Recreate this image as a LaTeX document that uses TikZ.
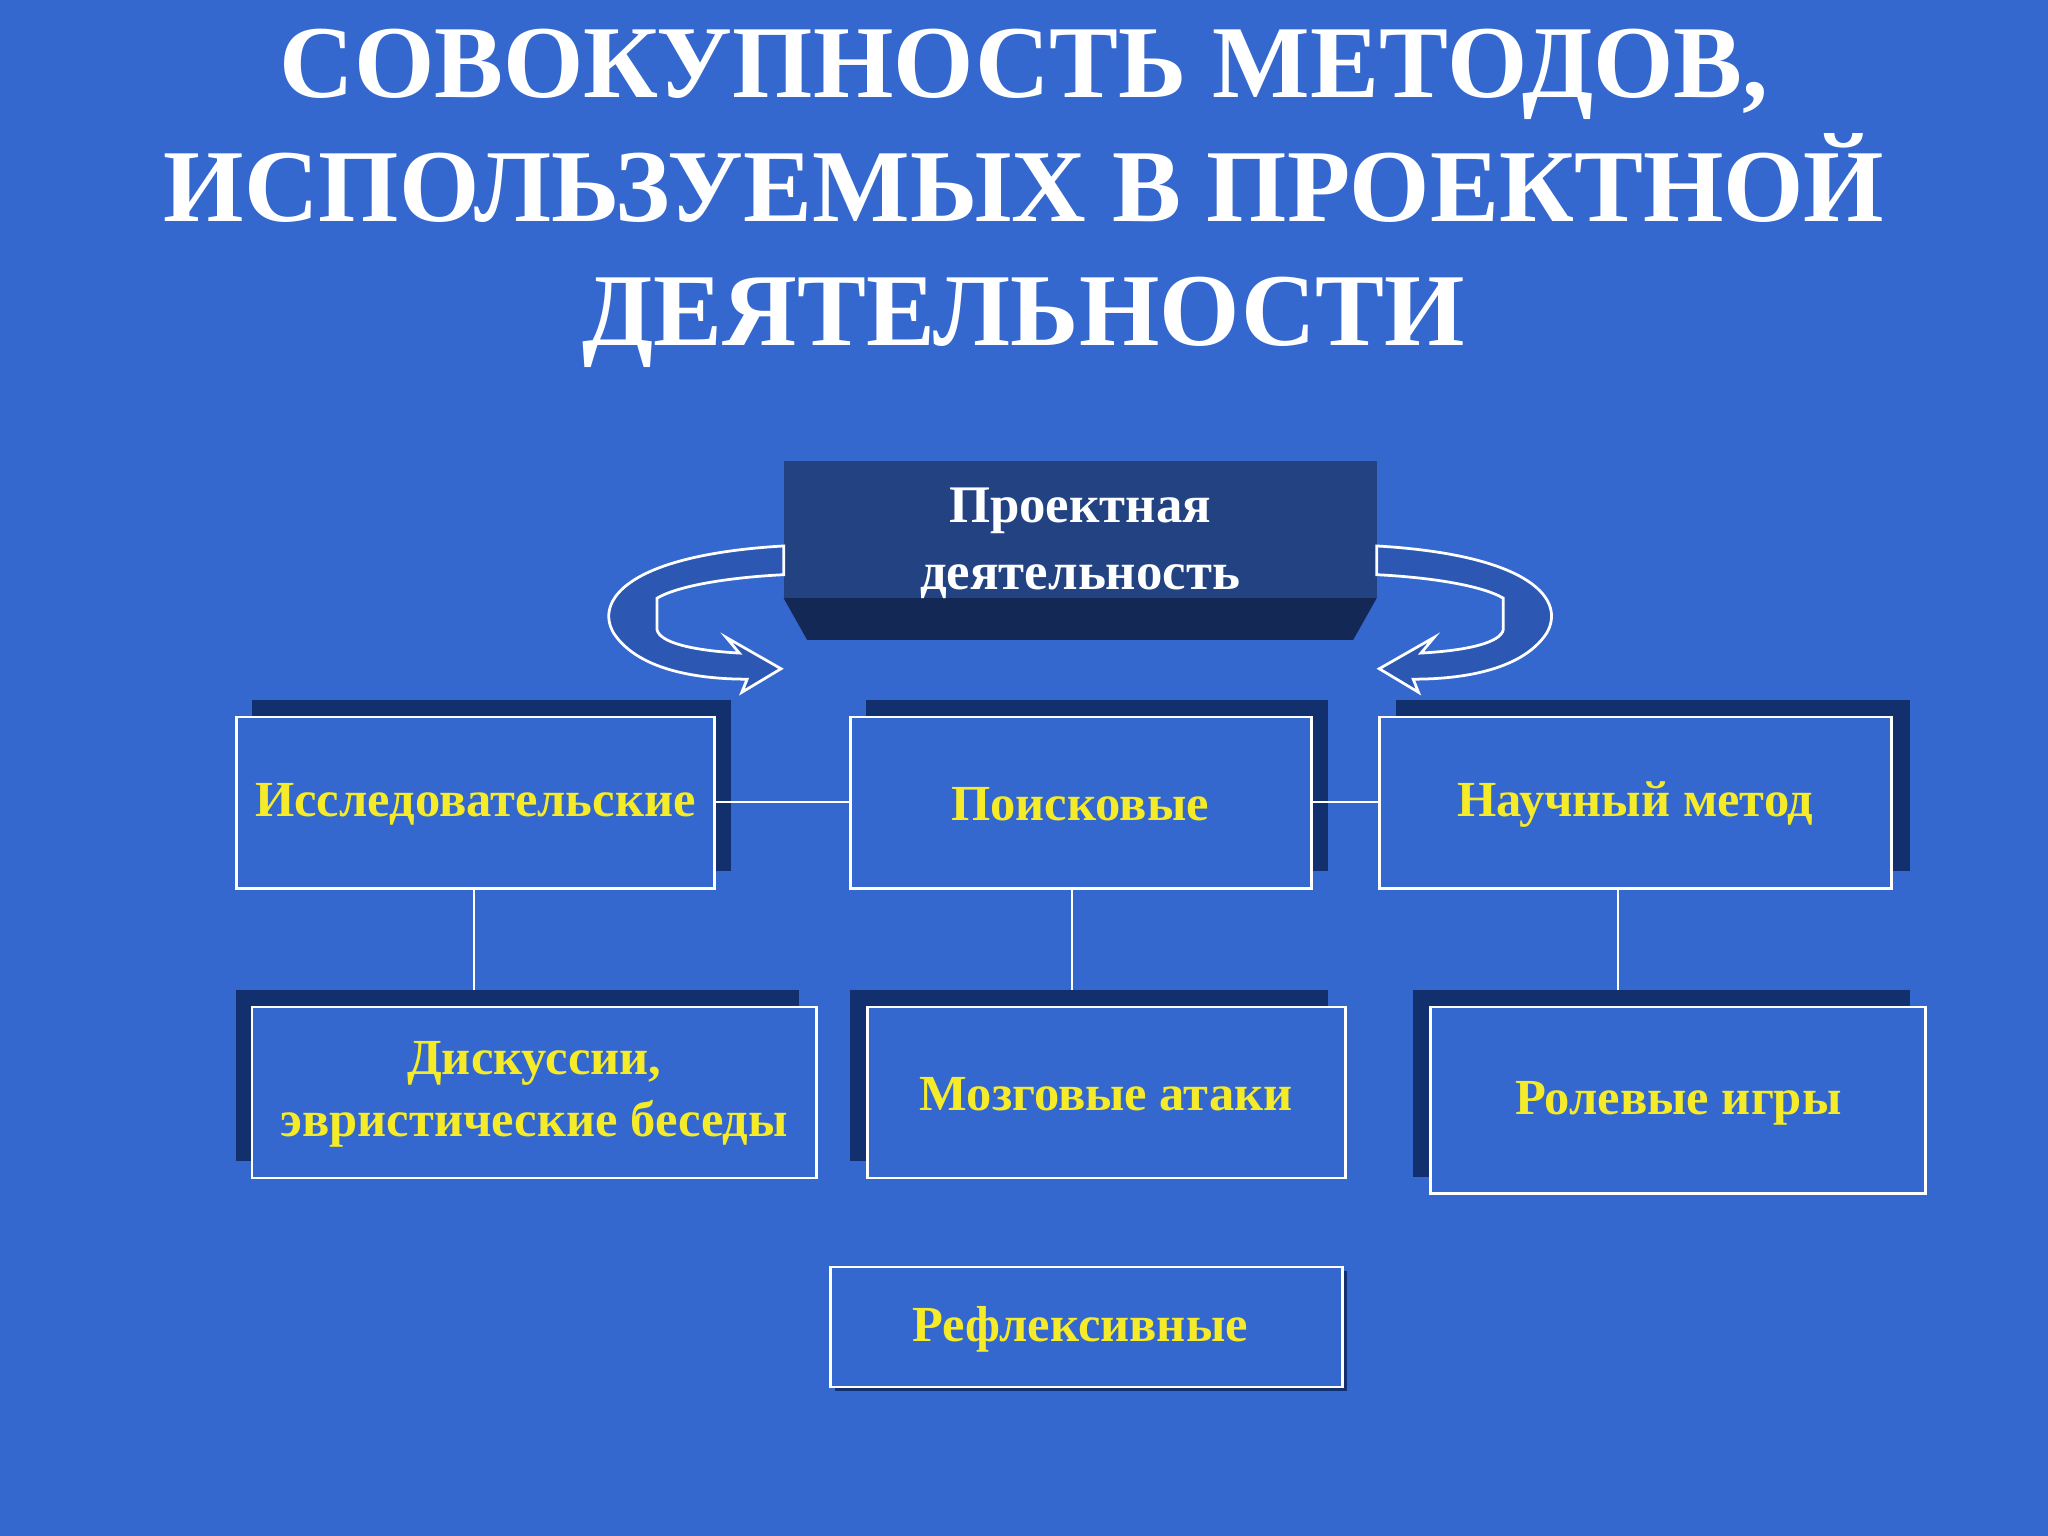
\documentclass[tikz,border=0pt]{standalone}
\usepackage{fontspec}
\setmainfont{Liberation Serif}
\definecolor{bg}{RGB}{52,104,206}
\definecolor{shad}{RGB}{18,48,110}
\definecolor{ytxt}{RGB}{245,235,40}
\definecolor{topf}{RGB}{34,66,130}
\definecolor{topb}{RGB}{20,40,85}
\definecolor{rib}{RGB}{44,88,180}
\tikzset{
 box/.style={draw=white,line width=0.6pt,fill=bg},
 lbl/.style={text=ytxt,font=\bfseries\fontsize{11}{13.5}\selectfont,align=center},
 conn/.style={draw=white,line width=0.5pt},
 ribbon/.style={draw=white,line width=0.6pt,fill=rib}
}
\begin{document}
\begin{tikzpicture}[x=0.01cm,y=-0.01cm]
\fill[bg] (0,0) rectangle (1568,1176);
\useasboundingbox (0,0) rectangle (1568,1176);
\node[text=white,font=\bfseries\fontsize{22.5}{27}\selectfont,align=center] (title) at (784,152)
 {СОВОКУПНОСТЬ МЕТОДОВ,\\ИСПОЛЬЗУЕМЫХ В ПРОЕКТНОЙ\\ДЕЯТЕЛЬНОСТИ};
% top box
\fill[topb] (600,458) -- (1054,458) -- (1036,490) -- (618,490) -- cycle;
\fill[topf] (600,353) rectangle (1054,458);
\node[text=white,font=\bfseries\fontsize{11.5}{14.5}\selectfont,align=center] (top) at (827,416) {Проектная\\деятельность};
% ribbons
\draw[ribbon] (600,418) .. controls (480,425) and (455,460) .. (470,485) .. controls (490,515) and (540,520) .. (572,520) -- (568,530) -- (598,512) -- (556,488) -- (566,500) .. controls (530,498) and (505,492) .. (503,482) -- (503,458) .. controls (520,448) and (560,442) .. (600,440) -- cycle;
\begin{scope}[shift={(1654,0)},xscale=-1]
\draw[ribbon] (600,418) .. controls (480,425) and (455,460) .. (470,485) .. controls (490,515) and (540,520) .. (572,520) -- (568,530) -- (598,512) -- (556,488) -- (566,500) .. controls (530,498) and (505,492) .. (503,482) -- (503,458) .. controls (520,448) and (560,442) .. (600,440) -- cycle;
\end{scope}
% shadows
\fill[shad] (193,536) rectangle (560,667);
\fill[shad] (663,536) rectangle (1017,667);
\fill[shad] (1069,536) rectangle (1462,667);
\fill[shad] (181,758) rectangle (612,889);
\fill[shad] (651,758) rectangle (1017,889);
\fill[shad] (1082,758) rectangle (1462,901);
\fill[shad] (639,973) rectangle (1031,1065);
% boxes
\draw[box] (181,549) rectangle (547,680); \node[lbl] (a) at (364,616) {Исследовательские};
\draw[box] (651,549) rectangle (1004,680); \node[lbl] (b) at (827,616) {Поисковые};
\draw[box] (1056,549) rectangle (1448,680); \node[lbl] (c) at (1252,616) {Научный метод};
\draw[box] (193,771) rectangle (625,902); \node[lbl] (d) at (409,838) {Дискуссии,\\эвристические беседы};
\draw[box] (664,771) rectangle (1030,902); \node[lbl] (e) at (847,838) {Мозговые атаки};
\draw[box] (1095,771) rectangle (1474,914); \node[lbl] (f) at (1285,845) {Ролевые игры};
\draw[box] (636,970) rectangle (1028,1062); \node[lbl] (g) at (827,1018) {Рефлексивные};
% connectors
\coordinate (a1) at (547,614); \coordinate (b1) at (651,614);
\coordinate (b2) at (1004,614); \coordinate (c1) at (1056,614);
\draw[conn] (a1) -- (b1); \draw[conn] (b2) -- (c1);
\coordinate (av) at (363,680); \coordinate (dv) at (363,758);
\coordinate (bv) at (821,680); \coordinate (ev) at (821,758);
\coordinate (cv) at (1239,680); \coordinate (fv) at (1239,758);
\draw[conn] (av) -- (dv); \draw[conn] (bv) -- (ev); \draw[conn] (cv) -- (fv);
\end{tikzpicture}
\end{document}
